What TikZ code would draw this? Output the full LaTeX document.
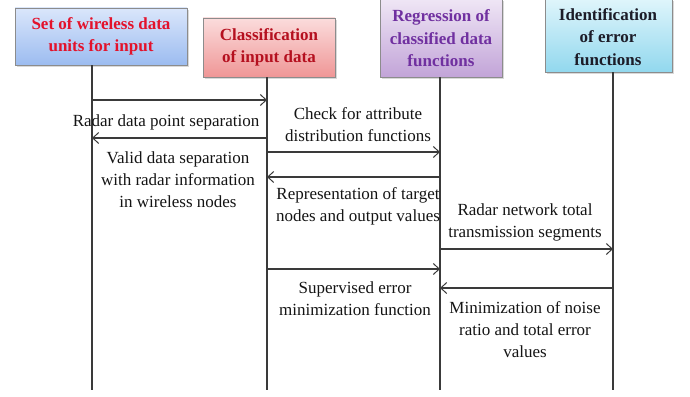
\documentclass[tikz,border=0pt]{standalone}
\usepackage{fontspec}
\setmainfont{Liberation Serif}
\usetikzlibrary{arrows.meta,shadows}
\definecolor{tred}{HTML}{E3122B}
\definecolor{tdred}{HTML}{B5101F}
\definecolor{tpurple}{HTML}{7030A0}
\definecolor{tdark}{HTML}{1C1C28}
\definecolor{linec}{HTML}{3A3A3A}
\definecolor{b1t}{HTML}{DAE6FB}\definecolor{b1b}{HTML}{9CBCF0}
\definecolor{b2t}{HTML}{FBDCDC}\definecolor{b2b}{HTML}{EF9696}
\definecolor{b3t}{HTML}{EFE6F5}\definecolor{b3b}{HTML}{C2A4D8}
\definecolor{b4t}{HTML}{DFF5FB}\definecolor{b4b}{HTML}{92D8EE}
\begin{document}
\begin{tikzpicture}[x=1pt,y=-1pt,
  boxs/.style n args={2}{top color=#1, bottom color=#2, draw=black!45, line width=0.6pt,
     drop shadow={shadow xshift=1.5pt,shadow yshift=-2pt,opacity=0.3}},
  ttl/.style={font=\bfseries\fontsize{17}{22.5}\selectfont, align=center, inner sep=0pt},
  lbl/.style={font=\fontsize{17}{22.3}\selectfont, align=center, inner sep=0pt, text=black!92},
  life/.style={draw=linec, line width=1.1pt},
  msg/.style={draw=linec, line width=1.1pt, -{Straight Barb[length=6pt,width=11pt,line width=1pt]}}]
\useasboundingbox (0,0) rectangle (690,396);
% boxes
\shade[boxs={b1t}{b1b}] (15,8) rectangle (187,65);
\shade[boxs={b2t}{b2b}] (203,18) rectangle (335,77);
\shade[boxs={b3t}{b3b}] (380,-1) rectangle (502,77);
\shade[boxs={b4t}{b4b}] (545,-1) rectangle (672,72);
\node[ttl, text=tred] (A) at (101,36.5) {Set of wireless data\\units for input};
\node[ttl, text=tdred] (B) at (269,47.5) {Classification\\of input data};
\node[ttl, text=tpurple] (C) at (441,38.5) {Regression of\\classified data\\functions};
\node[ttl, text=tdark] (D) at (608,37) {Identification\\of error\\functions};
% lifeline ends
\coordinate (A0) at (92,65);  \coordinate (A1) at (92,390);
\coordinate (B0) at (267,77); \coordinate (B1) at (267,390);
\coordinate (C0) at (440,77); \coordinate (C1) at (440,390);
\coordinate (D0) at (613,72); \coordinate (D1) at (613,390);
\draw[life] (A0) -- (A1);
\draw[life] (B0) -- (B1);
\draw[life] (C0) -- (C1);
\draw[life] (D0) -- (D1);
% message points
\coordinate (m1a) at (92,100);  \coordinate (m1b) at (267,100);
\coordinate (m2a) at (267,138); \coordinate (m2b) at (92,138);
\coordinate (m3a) at (267,152); \coordinate (m3b) at (440,152);
\coordinate (m4a) at (440,177); \coordinate (m4b) at (267,177);
\coordinate (m5a) at (440,249); \coordinate (m5b) at (613,249);
\coordinate (m6a) at (267,269); \coordinate (m6b) at (440,269);
\coordinate (m7a) at (613,288); \coordinate (m7b) at (440,288);
\draw[msg] (m1a) -- (m1b);
\draw[msg] (m2a) -- (m2b);
\draw[msg] (m3a) -- (m3b);
\draw[msg] (m4a) -- (m4b);
\draw[msg] (m5a) -- (m5b);
\draw[msg] (m6a) -- (m6b);
\draw[msg] (m7a) -- (m7b);
% labels
\node[lbl] (l1) at (166,122) {Radar data point separation};
\node[lbl] (l2) at (178,179.5) {Valid data separation\\with radar information\\in wireless nodes};
\node[lbl] (l3) at (358,124.5) {Check for attribute\\distribution functions};
\node[lbl] (l4) at (358,206) {Representation of target\\nodes and output values};
\node[lbl] (l5) at (525,222.5) {Radar network total\\transmission segments};
\node[lbl] (l6) at (355,299) {Supervised error\\minimization function};
\node[lbl] (l7) at (525,329.5) {Minimization of noise\\ratio and total error\\values};
\end{tikzpicture}
\end{document}
